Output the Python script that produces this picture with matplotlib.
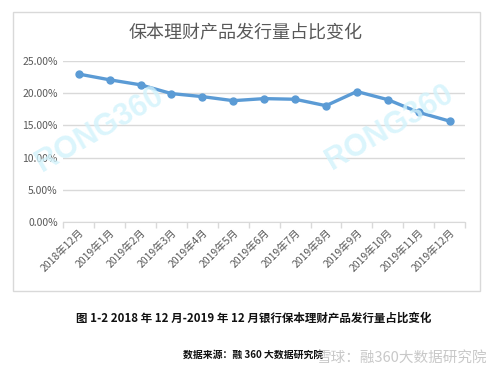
import matplotlib
matplotlib.use("Agg")
import matplotlib.pyplot as plt
from matplotlib.patches import Rectangle
from matplotlib.ticker import FuncFormatter, FixedLocator, NullFormatter

plt.rcParams['font.family'] = ['Noto Sans CJK SC', 'DejaVu Sans']

categories = ["2018年12月", "2019年1月", "2019年2月", "2019年3月", "2019年4月",
              "2019年5月", "2019年6月", "2019年7月", "2019年8月", "2019年9月",
              "2019年10月", "2019年11月", "2019年12月"]
values = [22.97, 22.08, 21.30, 19.94, 19.47, 18.84, 19.16, 19.06, 18.06, 20.26,
          19.00, 17.03, 15.67]
yticks = [0, 5, 10, 15, 20, 25]

title = "保本理财产品发行量占比变化"
caption = "图 1-2 2018 年 12 月-2019 年 12 月银行保本理财产品发行量占比变化"
source = "数据来源：融 360 大数据研究院"
xq_mark = "雪球：融360大数据研究院"

fig = plt.figure(figsize=(5.0, 3.74), dpi=100)
fig.patch.set_facecolor("white")

# chart frame
fig.patches.append(Rectangle((13/500, 1-291/374), 467/500, 279/374,
                             transform=fig.transFigure, fill=False,
                             edgecolor="#d9d9d9", linewidth=1.0))

ax = fig.add_axes([63.3/500, 1-222/374, 401.7/500, 161/374])
n = len(categories)
x = list(range(n))

# watermarks
for cx, cy in [(100, 130), (390, 128)]:
    fig.text(cx/500, 1-cy/374, "RONG360", fontsize=22, color="#d2f3fc", alpha=0.8,
             rotation=30, ha="center", va="center", family="Liberation Sans",
             fontweight="bold")

ax.plot(x, values, color="#5B9BD5", linewidth=2.4, marker="o", markersize=5,
        markerfacecolor="#5B9BD5", markeredgecolor="#5B9BD5", zorder=3)

ax.set_xlim(-0.5, n - 0.5)
ax.set_ylim(0, 25)
ax.set_yticks(yticks)
ax.yaxis.set_major_formatter(FuncFormatter(lambda v, p: f"{v:.2f}%"))
ax.grid(axis="y", color="#d9d9d9", linewidth=1.0)
ax.set_axisbelow(True)
for s in ["top", "right", "left"]:
    ax.spines[s].set_visible(False)
ax.spines["bottom"].set_color("#d9d9d9")
ax.tick_params(axis="y", length=0, labelsize=7.5, labelcolor="#595959", pad=4)

ax.set_xticks(x)
ax.set_xticklabels(categories, rotation=45, ha="right", rotation_mode="anchor",
                   fontsize=7.5, color="#595959")
ax.tick_params(axis="x", which="major", length=0, pad=4)
ax.xaxis.set_minor_locator(FixedLocator([i - 0.5 for i in range(n + 1)]))
ax.xaxis.set_minor_formatter(NullFormatter())
ax.tick_params(axis="x", which="minor", length=4, color="#d9d9d9", width=1.0)

fig.text(246/500, 1-33/374, title, fontsize=13, color="#595959",
         ha="center", va="center")

fig.text(254/500, 1-318/374, caption, fontsize=8.3, color="#111111",
         ha="center", va="center", fontweight="bold")
fig.text(183/500, 1-355/374, source, fontsize=7.1, color="#111111",
         ha="left", va="center", fontweight="bold")
fig.text(487/500, 1-358/374, xq_mark, fontsize=10.5, color="#bbbbbb", alpha=0.8,
         ha="right", va="center")

fig.savefig("out.png", dpi=100, facecolor="white")
